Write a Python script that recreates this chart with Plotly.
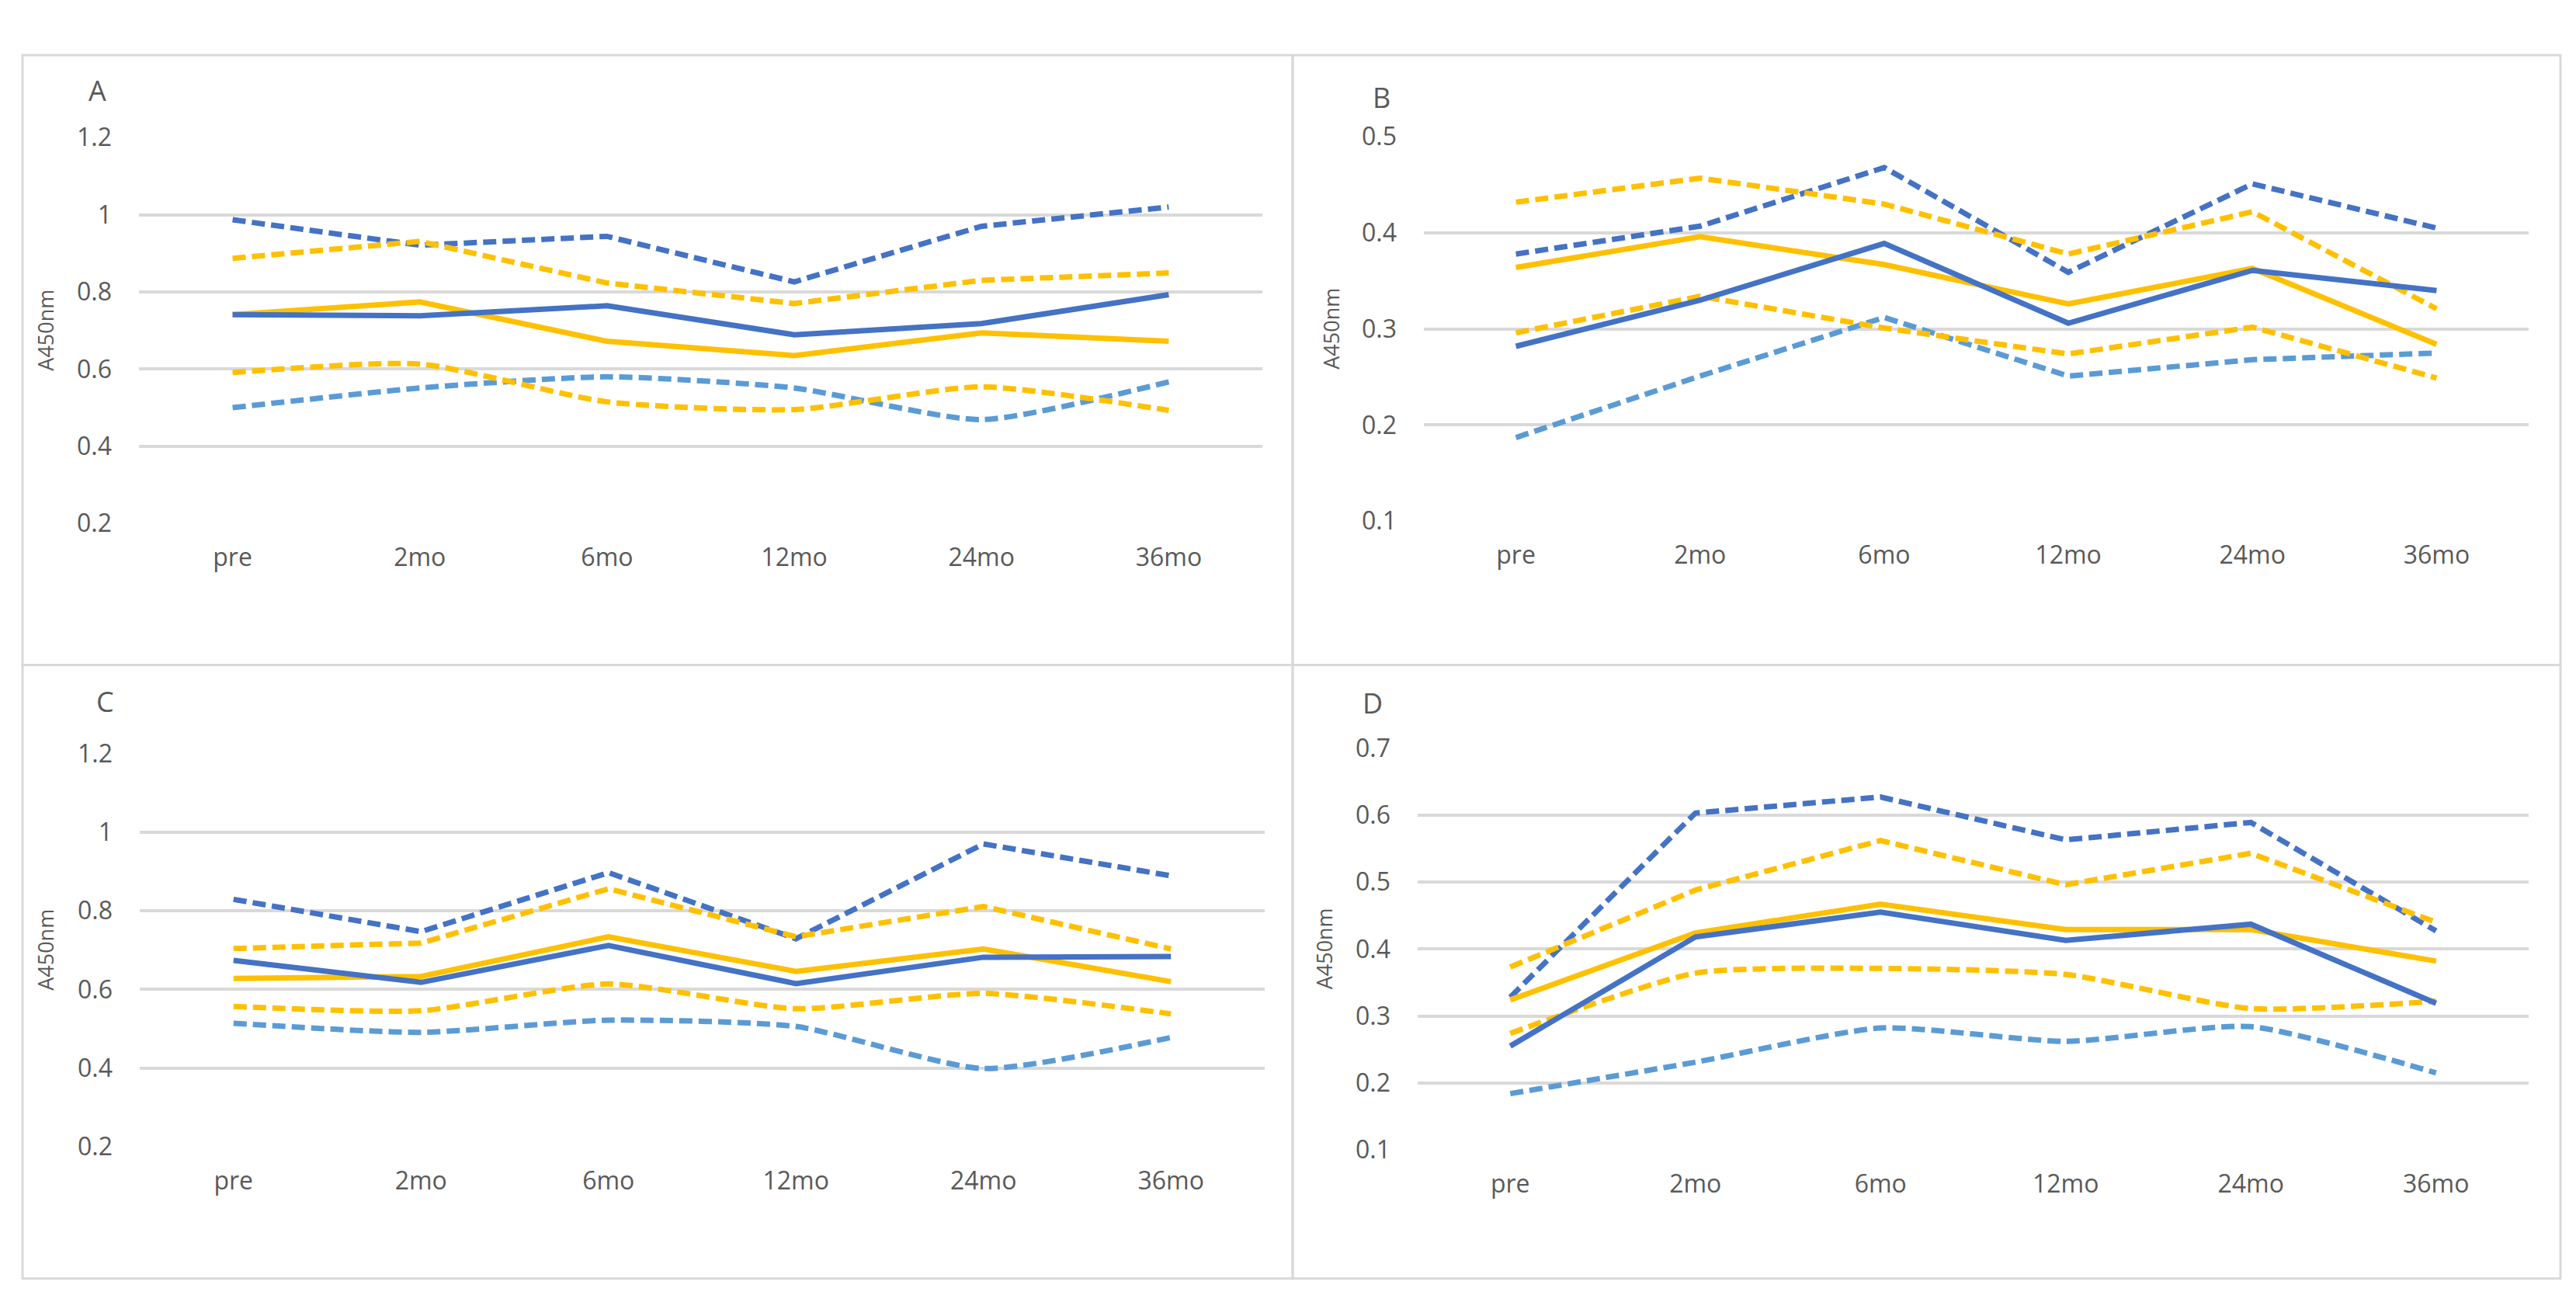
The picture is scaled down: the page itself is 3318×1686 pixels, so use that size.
import plotly.graph_objects as go

W, H = 3318, 1686

categories = ["pre", "2mo", "6mo", "12mo", "24mo", "36mo"]

# Panel A
A_blue_upper = [0.987, 0.921, 0.944, 0.826, 0.970, 1.020]
A_yel_upper = [0.887, 0.931, 0.823, 0.770, 0.830, 0.849]
A_blue = [0.741, 0.738, 0.764, 0.689, 0.718, 0.793]
A_yel = [0.741, 0.774, 0.672, 0.635, 0.694, 0.672]
A_yel_lower = [0.591, 0.613, 0.515, 0.495, 0.554, 0.493]
A_blue_lower = [0.500, 0.551, 0.580, 0.551, 0.469, 0.567]

# Panel B
B_blue_upper = [0.378, 0.407, 0.468, 0.359, 0.451, 0.405]
B_yel_upper = [0.432, 0.457, 0.430, 0.378, 0.422, 0.321]
B_blue = [0.282, 0.330, 0.389, 0.306, 0.361, 0.340]
B_yel = [0.364, 0.396, 0.367, 0.326, 0.363, 0.284]
B_yel_lower = [0.296, 0.334, 0.301, 0.274, 0.302, 0.249]
B_blue_lower = [0.187, 0.251, 0.312, 0.251, 0.268, 0.275]

# Panel C
C_blue_upper = [0.829, 0.747, 0.897, 0.729, 0.970, 0.889]
C_yel_upper = [0.704, 0.718, 0.856, 0.734, 0.811, 0.703]
C_blue = [0.674, 0.618, 0.712, 0.615, 0.682, 0.684]
C_yel = [0.628, 0.633, 0.734, 0.646, 0.703, 0.620]
C_yel_lower = [0.557, 0.546, 0.614, 0.551, 0.590, 0.538]
C_blue_lower = [0.514, 0.491, 0.522, 0.506, 0.399, 0.478]

# Panel D
D_blue_upper = [0.328, 0.603, 0.627, 0.563, 0.589, 0.427]
D_yel_upper = [0.373, 0.488, 0.562, 0.496, 0.543, 0.440]
D_blue = [0.255, 0.418, 0.455, 0.413, 0.437, 0.319]
D_yel = [0.324, 0.424, 0.467, 0.429, 0.429, 0.382]
D_yel_lower = [0.274, 0.364, 0.371, 0.362, 0.311, 0.322]
D_blue_lower = [0.184, 0.231, 0.282, 0.262, 0.284, 0.215]

panel_letters = ["A", "B", "C", "D"]
y_ranges = [(0.2, 1.2), (0.1, 0.5), (0.2, 1.2), (0.1, 0.7)]
y_dticks = [0.2, 0.1, 0.2, 0.1]
y_title = "A450nm"

BLUE = "#4472C4"
LBLUE = "#5B9BD5"
YEL = "#FFC000"
GRID = "#D9D9D9"
TXT = "#595959"
FONT = "Open Sans"
LW = 7
DASH = "17px,8px"

# plot-area pixel boxes (x0, x1, ytop, ybottom)
boxes = [(171, 1618, 150, 660), (1826, 3249, 149, 657),
         (172, 1621, 964, 1484), (1818, 3249, 957, 1488)]
letter_pos = [(117, 88), (1772, 97), (127, 895), (1760, 897)]
title_x = [51, 1707, 51, 1697]

panels = [
    (A_blue_upper, A_yel_upper, A_blue, A_yel, A_yel_lower, A_blue_lower, True),
    (B_blue_upper, B_yel_upper, B_blue, B_yel, B_yel_lower, B_blue_lower, False),
    (C_blue_upper, C_yel_upper, C_blue, C_yel, C_yel_lower, C_blue_lower, True),
    (D_blue_upper, D_yel_upper, D_blue, D_yel, D_yel_lower, D_blue_lower, True),
]

fig = go.Figure()
xs = list(range(len(categories)))


def px2x(p):
    return p / W


def px2y(p):
    return 1 - p / H


layout_axes = {}
annotations = []
for i, (bu, yu, b, y, yl, bl, smooth) in enumerate(panels):
    n = "" if i == 0 else str(i + 1)
    xa, ya = "x" + n, "y" + n
    lower_shape = dict(shape="spline", smoothing=0.6) if smooth else dict(shape="linear")
    series = [
        (bl, LBLUE, DASH, lower_shape),
        (yl, YEL, DASH, lower_shape),
        (bu, BLUE, DASH, dict(shape="linear")),
        (yu, YEL, DASH, dict(shape="linear")),
        (y, YEL, "solid", dict(shape="linear")),
        (b, BLUE, "solid", dict(shape="linear")),
    ]
    for vals, col, dash, shp in series:
        fig.add_trace(go.Scatter(x=xs, y=vals, mode="lines", xaxis=xa, yaxis=ya,
                                 line=dict(color=col, width=LW, dash=dash, **shp),
                                 showlegend=False, hoverinfo="skip"))
    x0, x1, yt, yb = boxes[i]
    lo, hi = y_ranges[i]
    layout_axes["xaxis" + n] = dict(
        domain=[px2x(x0), px2x(x1)], range=[-0.5, len(categories) - 0.5],
        tickvals=xs, ticktext=categories, showgrid=False, zeroline=False,
        showline=False, ticks="", anchor=ya, ticklabelstandoff=22,
        tickfont=dict(family=FONT, size=32, color=TXT), fixedrange=True)
    layout_axes["yaxis" + n] = dict(
        domain=[px2y(yb), px2y(yt)], range=[lo, hi], dtick=y_dticks[i], tick0=lo,
        showgrid=True, gridcolor=GRID, gridwidth=3.5, zeroline=False, showline=False,
        ticks="", anchor=xa, ticklabelstandoff=34,
        tickfont=dict(family=FONT, size=32, color=TXT), fixedrange=True)
    lx, ly = letter_pos[i]
    annotations.append(dict(text=panel_letters[i], x=px2x(lx), y=px2y(ly), xref="paper",
                            yref="paper", showarrow=False, xanchor="center", yanchor="middle",
                            font=dict(family=FONT, size=36, color=TXT)))
    annotations.append(dict(text=y_title, x=px2x(title_x[i]), y=px2y((yt + yb) / 2),
                            xref="paper", yref="paper", showarrow=False, textangle=-90,
                            xanchor="center", yanchor="middle",
                            font=dict(family=FONT, size=27, color=TXT)))

shapes = []
frames = [(21, 41, 1657, 847), (1657, 41, 3290, 847),
          (21, 847, 1657, 1658), (1657, 847, 3290, 1658)]
for (a, b_, c, d) in frames:
    shapes.append(dict(type="rect", xref="paper", yref="paper",
                       x0=px2x(a), x1=px2x(c), y0=px2y(d), y1=px2y(b_),
                       line=dict(color=GRID, width=3), layer="below"))

fig.update_layout(width=W, height=H, margin=dict(l=0, r=0, t=0, b=0),
                  paper_bgcolor="white", plot_bgcolor="white",
                  annotations=annotations, shapes=shapes, **layout_axes)

fig.write_html("out.html", config={"displayModeBar": False})
